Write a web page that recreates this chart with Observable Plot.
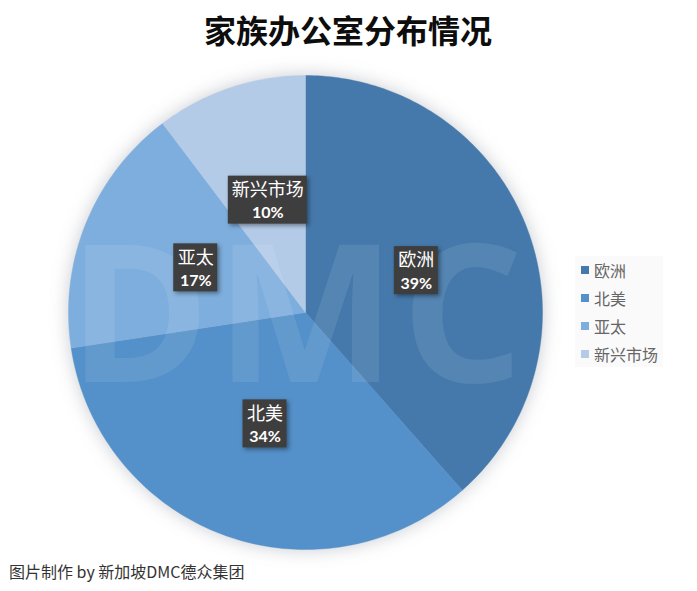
<!DOCTYPE html>
<html lang="zh">
<head>
<meta charset="utf-8">
<script src="https://cdn.jsdelivr.net/npm/d3@7"></script>
<script src="https://cdn.jsdelivr.net/npm/@observablehq/plot@0.6"></script>
<style>
  html, body { margin: 0; padding: 0; background: #fff; }
  #page { position: relative; width: 697px; height: 591px; overflow: hidden; }
  #title { position: absolute; left: 0; top: 7px; width: 697px;
           font: 700 32px/44px "Noto Sans CJK SC", sans-serif; color: #0d0d0d; }
  #title span { position: absolute; left: 204px; white-space: nowrap; }
  #chart { position: absolute; left: 0; top: 60px; }
  .wm text { letter-spacing: 5px; }
  #legend { position: absolute; left: 575px; top: 256px; width: 88px; height: 111px; background: #fafafa; }
  #legend div { position: absolute; left: 19px; height: 20px; white-space: nowrap;
                font: 400 16px/20px "Noto Sans CJK SC", sans-serif; color: #666; }
  #legend i { position: absolute; left: -13px; top: 6px; width: 8px; height: 8px; }
  #caption { position: absolute; left: 9px; top: 560px; white-space: nowrap;
             font: 400 16px/22px "Noto Sans CJK SC", sans-serif; color: #333; }
</style>
</head>
<body>
<div id="page">
  <div id="title"><span>家族办公室分布情况</span></div>
  <div id="chart"></div>
  <div id="legend"></div>
  <div id="caption">图片制作 by 新加坡DMC德众集团</div>
</div>
<script>
const names = ["欧洲", "北美", "亚太", "新兴市场"];
const shares = [38.5, 34.1, 17.1, 10.3];
const colors = ["#4579ab", "#5490c9", "#7eaedd", "#b4cbe8"];
const watermark = ["DMC"];

const arcs = d3.pie().sort(null).value(d => d)(shares);

const slices = arcs.flatMap((a, i) => {
  const steps = Math.ceil((a.endAngle - a.startAngle) / (Math.PI / 180));
  const rim = d3.range(steps + 1).map(k => {
    const t = a.startAngle + (a.endAngle - a.startAngle) * k / steps;
    return {name: names[i], x: Math.sin(t), y: Math.cos(t)};
  });
  const hub = {name: names[i], x: 0, y: 0};
  return [hub, ...rim, hub];
});

const labels = arcs.map((a, i) => {
  const mid = (a.startAngle + a.endAngle) / 2;
  return {
    name: names[i],
    pct: Math.round(shares[i]) + "%",
    x: 0.5 * Math.sin(mid),
    y: 0.5 * Math.cos(mid),
    hw: (names[i].length * 17.5 + 9) / 2 / 237,
    hh: 24 / 237
  };
});

const chart = Plot.plot({
  width: 697,
  height: 496,
  margin: 0,
  style: {background: "transparent", overflow: "visible"},
  x: {domain: [-1, 1], range: [68, 542], axis: null},
  y: {domain: [-1, 1], range: [489, 15], axis: null},
  color: {type: "ordinal", domain: names, range: colors},
  marks: [
    Plot.line(slices, {
      x: "x", y: "y", z: "name", fill: "name", stroke: "name", strokeWidth: 0.4,
      curve: "linear", imageFilter: "drop-shadow(0 0 9px rgba(60,70,90,0.28))"
    }),
    Plot.text(watermark, {
      x: () => -0.03, y: () => 0, text: d => d, fill: "#fff", fillOpacity: 0.09,
      fontSize: 192, fontWeight: 700, fontFamily: "'Open Sans', sans-serif", lineAnchor: "middle",
      dy: 8, className: "wm"
    }),
    Plot.rect(labels, {
      x1: d => d.x - d.hw, x2: d => d.x + d.hw,
      y1: d => d.y - d.hh, y2: d => d.y + d.hh,
      fill: "#3f3e3e", imageFilter: "drop-shadow(2px 2px 2px rgba(0,0,0,0.4))"
    }),
    Plot.text(labels, {
      x: "x", y: "y", text: "name", dy: -10, fill: "#fff", fontSize: 18,
      fontFamily: "'Noto Sans CJK SC', sans-serif", lineAnchor: "middle"
    }),
    Plot.text(labels, {
      x: "x", y: "y", text: "pct", dy: 13, fill: "#fff", fontSize: 16, fontWeight: 700,
      fontFamily: "Lato, sans-serif", lineAnchor: "middle"
    })
  ]
});
document.getElementById("chart").append(chart);

const legend = d3.select("#legend");
const rowTops = [4, 32, 60, 88];
names.forEach((n, i) => {
  const row = legend.append("div").style("top", rowTops[i] + "px");
  row.append("i").style("background", colors[i]);
  row.append("span").text(n);
});
</script>
</body>
</html>
